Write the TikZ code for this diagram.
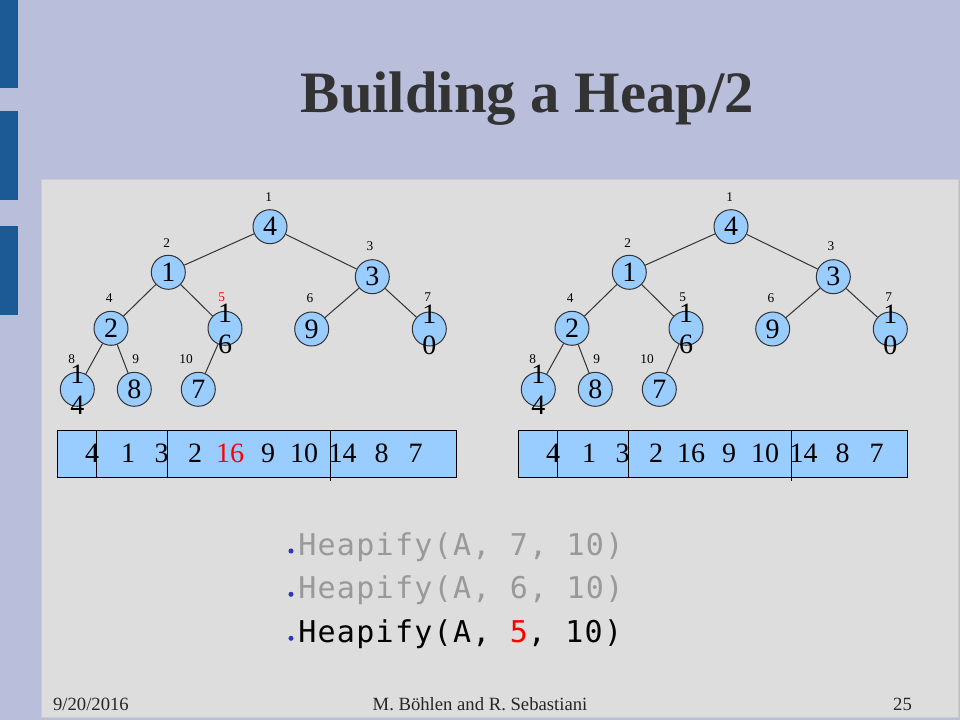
\documentclass[tikz,border=0pt]{standalone}
\usepackage{fontspec}
\setmainfont{Liberation Serif}
\newfontfamily\codefont[LetterSpace=4.3]{DejaVu Sans Mono}
\definecolor{slidebg}{HTML}{B9BEDB}
\definecolor{tabblue}{HTML}{1B5A94}
\definecolor{panelgray}{HTML}{DDDDDD}
\definecolor{heapblue}{HTML}{99CCFF}
\definecolor{titlegray}{HTML}{333333}
\definecolor{dotblue}{HTML}{3333BB}
% two digits that do not fit on one line in a node
\newcommand\twodig[2]{\makebox[0pt]{\raisebox{4.1pt}[0pt][0pt]{#1}}\makebox[0pt]{\raisebox{-19.1pt}[0pt][0pt]{#2}}}

\begin{document}
\begin{tikzpicture}[x=0.75pt, y=-0.75pt,
  vtx/.style={circle, draw=black!80, fill=heapblue, line width=0.75pt, minimum size=25.5pt, inner sep=0pt, font=\fontsize{21}{25}\selectfont},
  idx/.style={inner sep=0pt, font=\fontsize{10}{12}\selectfont},
  cell/.style={anchor=base, inner sep=0pt, font=\fontsize{21}{25}\selectfont},
  link/.style={black!80, line width=0.75pt},
  callline/.style={anchor=base west, inner sep=0pt, font=\codefont\fontsize{22.5}{26}\selectfont}]
\useasboundingbox (0,0) rectangle (960,720);
\fill [slidebg] (0,0) rectangle (960,720);
\fill [tabblue] (0,0) rectangle (18,88);
\fill [tabblue] (0,111) rectangle (18,200);
\fill [tabblue] (0,226) rectangle (18,315);
\filldraw [fill=panelgray, draw=black!20, line width=0.75pt] (41,180) rectangle (958,717);
\node [text=titlegray, anchor=base, font=\fontsize{44}{50}\selectfont\bfseries] (title) at (527.5,113) {Building a Heap/2};

% the two trees and arrays
\foreach \s/\dx/\fc/\re in {L/0/red/456, R/461/black/446}{
\begin{scope}[shift={(\dx,0)}]
\node [vtx] (\s1) at (270,226.7) {4};
\node [vtx] (\s2) at (168.3,272.3) {1};
\node [vtx] (\s3) at (372.3,276.7) {3};
\node [vtx] (\s4) at (111,328.3) {2};
\node [vtx] (\s5) at (225,328.3) {\twodig{1}{6}};
\node [vtx] (\s6) at (311.7,329) {9};
\node [vtx] (\s7) at (429.3,329) {\twodig{1}{0}};
\node [vtx] (\s8) at (77.3,389.3) {\twodig{1}{4}};
\node [vtx] (\s9) at (134.3,389.3) {8};
\node [vtx] (\s10) at (198.3,389.3) {7};
\draw [link] (\s1) -- (\s2);
\draw [link] (\s1) -- (\s3);
\draw [link] (\s2) -- (\s4);
\draw [link] (\s2) -- (\s5);
\draw [link] (\s3) -- (\s6);
\draw [link] (\s3) -- (\s7);
\draw [link] (\s4) -- (\s8);
\draw [link] (\s4) -- (\s9);
\draw [link] (\s5) -- (\s10);
\node [idx] (\s i1) at (268.7,196.7) {1};
\node [idx] (\s i2) at (166.7,242.7) {2};
\node [idx] (\s i3) at (370,246) {3};
\node [idx] (\s i4) at (109.3,298.3) {4};
\node [idx, text=\fc] (\s i5) at (221.7,297.5) {5};
\node [idx] (\s i6) at (310,298.3) {6};
\node [idx] (\s i7) at (427.7,297.5) {7};
\node [idx] (\s i8) at (71.7,359) {8};
\node [idx] (\s i9) at (135.7,359) {9};
\node [idx] (\s i10) at (186,359) {10};
% array
\draw [fill=heapblue, line width=0.75pt] (57,430) rectangle (\re,477);
\draw [line width=0.75pt] (96.7,430) -- (96.7,477);
\draw [line width=0.75pt] (167.3,430) -- (167.3,477);
\draw [line width=0.75pt] (330,430) -- (330,481);
\foreach \v/\px/\cc in {4/92/black, 1/128/black, 3/161.7/black, 2/195/black, 16/230/\fc, 9/268/black, 10/304/black, 14/342.7/black, 8/381.7/black, 7/415.7/black}
  \node [cell, text=\cc] (\s c\v) at (\px,462.7) {\v};
\end{scope}
}

% calls
\fill [dotblue] (291,551) circle (1.9pt);
\fill [dotblue] (291,594.3) circle (1.9pt);
\fill [dotblue] (291,638.3) circle (1.9pt);
\node [callline, text=black!40] (h1) at (298,555) {Heapify(A, 7, 10)};
\node [callline, text=black!40] (h2) at (298,598.3) {Heapify(A, 6, 10)};
\node [callline] (h3) at (298,642.3) {Heapify(A, \textcolor{red}{5}, 10)};

% footer
\node [anchor=base west, text=black!85, font=\fontsize{14}{16}\selectfont] (date) at (48.4,710.6) {9/20/2016};
\node [anchor=base, text=black!85, font=\fontsize{14}{16}\selectfont] (auth) at (480,710.6) {M. Böhlen and R. Sebastiani};
\node [anchor=base, text=black!85, font=\fontsize{14}{16}\selectfont] (page) at (902.5,710.6) {25};
\end{tikzpicture}
\end{document}
